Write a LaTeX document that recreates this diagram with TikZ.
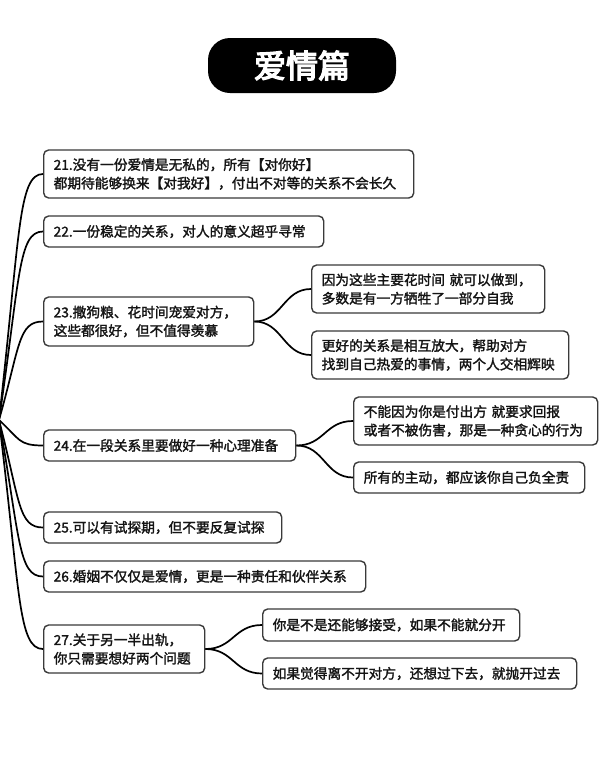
\documentclass[tikz,border=0pt]{standalone}
\usepackage{fontspec}
\newfontfamily\cjk{Noto Sans CJK SC}[FakeBold=1.8]
\newfontfamily\cjkt{Noto Sans CJK SC}[FakeBold=4]
\definecolor{boxc}{HTML}{3A3A3A}
\definecolor{txt}{HTML}{141414}
\begin{document}
\begin{tikzpicture}[x=1pt,y=-1pt,
  box/.style={draw=boxc, line width=1.4pt, rounded corners=5pt, fill=white,
    anchor=west, align=left, inner xsep=10pt, inner ysep=0pt, text=txt,
    font=\cjk\fontsize{13.7}{18.5}\selectfont},
  link/.style={line width=1.7pt, draw=black},
  titlebox/.style={fill=black, rounded corners=22pt, minimum width=188pt,
    minimum height=55pt, text=white, inner sep=0pt,
    font=\cjkt\fontsize{32}{32}\selectfont}]
\fill[white] (0,0) rectangle (606,761);
\useasboundingbox (0,0) rectangle (606,761);

\node[titlebox] (title) at (302,65.5) {爱情篇};

\coordinate (root) at (-1,420);

\node[box, text width=350pt, minimum height=48pt] (n21) at (43,174)
  {21.没有一份爱情是无私的，所有【对你好】\\都期待能够换来【对我好】，付出不对等的关系不会长久};
\node[box, text width=260pt, minimum height=31pt] (n22) at (43,231.5)
  {22.一份稳定的关系，对人的意义超乎寻常};
\node[box, text width=190pt, minimum height=49pt] (n23) at (43,321.5)
  {23.撒狗粮、花时间宠爱对方，\\这些都很好，但不值得羡慕};
\node[box, text width=213pt, minimum height=48pt] (n23a) at (311,289)
  {因为这些主要花时间 就可以做到，\\多数是有一方牺牲了一部分自我};
\node[box, text width=237pt, minimum height=48pt] (n23b) at (311,355)
  {更好的关系是相互放大，帮助对方\\找到自己热爱的事情，两个人交相辉映};
\node[box, text width=232pt, minimum height=31pt] (n24) at (43,445.5)
  {24.在一段关系里要做好一种心理准备};
\node[box, text width=224pt, minimum height=48pt] (n24a) at (353,421)
  {不能因为你是付出方 就要求回报\\或者不被伤害，那是一种贪心的行为};
\node[box, text width=211pt, minimum height=31pt] (n24b) at (353,477.5)
  {所有的主动，都应该你自己负全责};
\node[box, text width=218pt, minimum height=31pt] (n25) at (43,527.5)
  {25.可以有试探期，但不要反复试探};
\node[box, text width=302pt, minimum height=31pt] (n26) at (43,576.5)
  {26.婚姻不仅仅是爱情，更是一种责任和伙伴关系};
\node[box, text width=141pt, minimum height=48pt] (n27) at (43,649)
  {27.关于另一半出轨，\\你只需要想好两个问题};
\node[box, text width=237pt, minimum height=32pt] (n27a) at (262,625)
  {你是不是还能够接受，如果不能就分开};
\node[box, text width=294pt, minimum height=31pt] (n27b) at (262,673.5)
  {如果觉得离不开对方，还想过下去，就抛开过去};

\foreach \n/\ym in {n21/174, n22/231.5, n23/321.5, n24/445.5, n25/527.5, n26/576.5, n27/649}{
  \draw[link] (root) .. controls (20,{420+0.75*(\ym-420)}) and (18,\ym) .. (\n.west);
}
\foreach \p/\c in {n23/n23a, n23/n23b, n24/n24a, n24/n24b, n27/n27a, n27/n27b}{
  \draw[link] (\p.east) .. controls +(28,0) and +(-28,0) .. (\c.west);
}
\end{tikzpicture}
\end{document}
